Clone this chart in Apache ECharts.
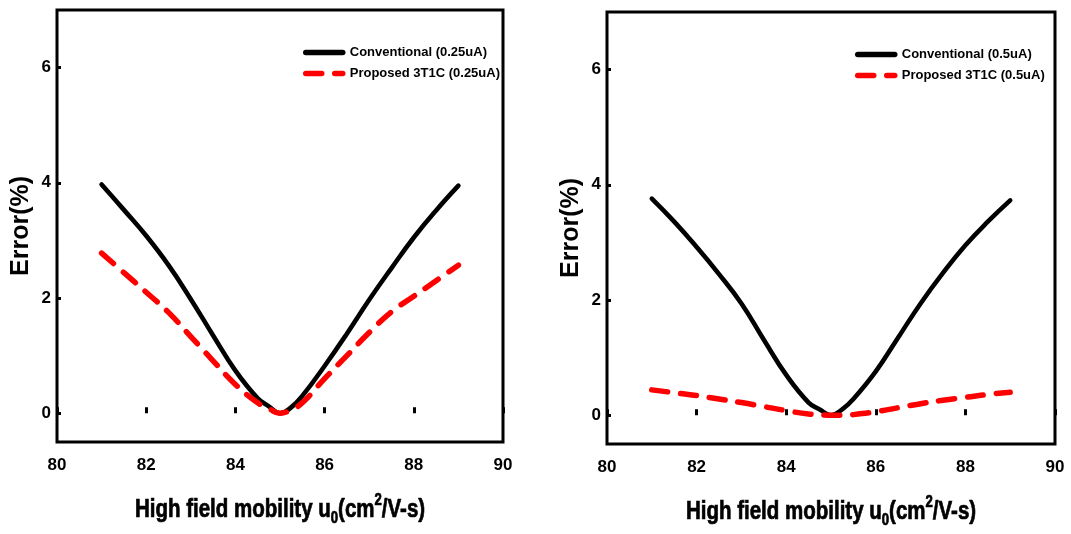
<!DOCTYPE html>
<html>
<head>
<meta charset="utf-8">
<script src="https://cdn.jsdelivr.net/npm/echarts@6/dist/echarts.min.js"></script>
<style>
  html, body { margin: 0; padding: 0; background: #fff; }
  #chart { width: 1071px; height: 534px; }
</style>
</head>
<body>
<div id="chart"></div>
<script>
// High field mobility sweep (cm^2/V-s)
const mobility = [81, 81.5, 82, 82.5, 83, 83.5, 84, 84.5, 84.75, 85, 85.25, 85.5, 86, 86.5, 87, 87.5, 88, 88.5, 89];

// Error (%) at 0.25uA
const conv025 = [3.97, 3.53, 3.08, 2.57, 1.98, 1.35, 0.74, 0.26, 0.12, 0, 0.1, 0.3, 0.82, 1.38, 1.97, 2.52, 3.05, 3.52, 3.95];
const prop025 = [2.78, 2.44, 2.1, 1.75, 1.33, 0.91, 0.5, 0.18, 0.08, 0, 0.06, 0.18, 0.6, 1.0, 1.4, 1.76, 2.03, 2.3, 2.57];

// Error (%) at 0.5uA
const conv05 = [3.76, 3.36, 2.92, 2.45, 1.94, 1.31, 0.70, 0.22, 0.1, 0, 0.1, 0.28, 0.76, 1.35, 1.94, 2.47, 2.95, 3.36, 3.73];
const prop05 = [0.44, 0.39, 0.34, 0.28, 0.22, 0.15, 0.08, 0.02, 0.01, 0, 0, 0.01, 0.06, 0.13, 0.2, 0.26, 0.31, 0.36, 0.4];

const xTicks = [80, 82, 84, 86, 88, 90];
const yTicks = [0, 2, 4, 6];

const names = {
  conv025: 'Conventional (0.25uA)',
  prop025: 'Proposed 3T1C (0.25uA)',
  conv05: 'Conventional (0.5uA)',
  prop05: 'Proposed 3T1C (0.5uA)'
};
const xTitle = 'High field mobility u{sub|0}(cm{sup|2}/V-s)';
const yTitle = 'Error(%)';

const FONT = '"Liberation Sans", Arial, sans-serif';

// Plot frames (px)
const frames = [
  { left: 57, top: 10, width: 446, height: 432 },
  { left: 607, top: 12, width: 448, height: 432 }
];

const pairs = ys => mobility.map((x, i) => [x, ys[i]]);

function xAxisFor(gridIndex) {
  return {
    gridIndex, type: 'value', min: 80, max: 90, interval: 2,
    axisLine: { show: false },
    axisTick: { show: true, inside: true, length: 6, lineStyle: { color: '#000', width: 3 } },
    axisLabel: { color: '#000', fontFamily: FONT, fontWeight: 'bold', fontSize: 17, margin: 15,
      customValues: xTicks },
    splitLine: { show: false }
  };
}

function yAxisFor(gridIndex) {
  return {
    gridIndex, type: 'value', min: -0.5, max: 7,
    axisLine: { show: false },
    axisTick: { show: true, inside: true, length: 4, customValues: yTicks, lineStyle: { color: '#000', width: 3 } },
    axisLabel: { color: '#000', fontFamily: FONT, fontWeight: 'bold', fontSize: 17, margin: 6, customValues: yTicks },
    splitLine: { show: false },
    name: yTitle, nameLocation: 'middle', nameGap: 23, nameRotate: 90,
    nameTextStyle: { color: '#000', fontFamily: FONT, fontWeight: 'bold', fontSize: 25 }
  };
}

function solid(name, data, idx) {
  return {
    name, type: 'line', xAxisIndex: idx, yAxisIndex: idx, data: pairs(data),
    symbol: 'none', smooth: 0.45, z: 3,
    lineStyle: { color: '#000', width: 4.6, type: 'solid', cap: 'round', join: 'round' },
    itemStyle: { color: '#000' }
  };
}
function dashed(name, data, idx) {
  return {
    name, type: 'line', xAxisIndex: idx, yAxisIndex: idx, data: pairs(data),
    symbol: 'none', smooth: 0.45, z: 4,
    lineStyle: { color: '#ff0000', width: 5.5, type: [16, 13], cap: 'round', join: 'round' },
    itemStyle: { color: '#ff0000' }
  };
}

function legendAt(left, top, data) {
  return {
    left, top, padding: 0, orient: 'vertical', itemWidth: 37, itemHeight: 14, itemGap: 8,
    selectedMode: false, data,
    itemStyle: { opacity: 0 },
    lineStyle: { width: 5.5 },
    textStyle: { color: '#000', fontFamily: FONT, fontWeight: 'bold', fontSize: 13, padding: [0, 0, 0, 2] }
  };
}

// Horizontal axis titles, condensed heavy type
function xTitleFor(f) {
  const base = { fill: '#000', fontFamily: FONT, fontWeight: 'bold', stroke: '#000', lineWidth: 0.7 };
  return {
    type: 'text', x: f.left + f.width / 2, y: f.top + f.height + 68, scaleX: 0.82,
    style: Object.assign({}, base, {
      text: xTitle, x: 0, y: 0, align: 'center', verticalAlign: 'middle',
      fontSize: 25, lineHeight: 34,
      rich: {
        sub: Object.assign({}, base, { fontSize: 16, lineHeight: 34, verticalAlign: 'bottom', padding: [14, 0, 0, 0] }),
        sup: Object.assign({}, base, { fontSize: 16, lineHeight: 34, verticalAlign: 'top', padding: [0, 0, 12, 0] })
      }
    })
  };
}

const chart = echarts.init(document.getElementById('chart'), null, { renderer: 'canvas' });
chart.setOption({
  backgroundColor: '#fff',
  animation: false,
  grid: frames.map(f => Object.assign({ show: true, borderColor: '#000', borderWidth: 3, backgroundColor: 'transparent' }, f)),
  xAxis: [xAxisFor(0), xAxisFor(1)],
  yAxis: [yAxisFor(0), yAxisFor(1)],
  legend: [
    legendAt(303, 46, [names.conv025, names.prop025]),
    legendAt(855, 48, [names.conv05, names.prop05])
  ],
  graphic: frames.map(xTitleFor),
  series: [
    solid(names.conv025, conv025, 0),
    dashed(names.prop025, prop025, 0),
    solid(names.conv05, conv05, 1),
    dashed(names.prop05, prop05, 1)
  ]
});
</script>
</body>
</html>
